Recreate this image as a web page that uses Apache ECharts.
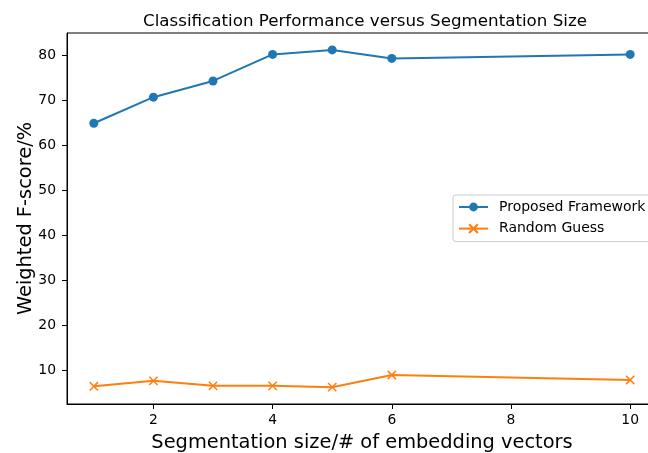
<!DOCTYPE html>
<html><head><meta charset="utf-8">
<script src="https://cdn.jsdelivr.net/npm/echarts@6/dist/echarts.min.js"></script>
<style>html,body{margin:0;padding:0;background:#fff}#c{width:648px;height:453px}</style>
</head><body><div id="c"></div>
<script>
const xValues = [1, 2, 3, 4, 5, 6, 10];
const proposed = [64.9, 70.7, 74.3, 80.2, 81.2, 79.3, 80.2];
const randomGuess = [6.5, 7.7, 6.6, 6.6, 6.3, 9.0, 7.9];
const xTicks = [2, 4, 6, 8, 10];
const yTicks = [10, 20, 30, 40, 50, 60, 70, 80];

const font = 'DejaVu Sans';
const chart = echarts.init(document.getElementById('c'), null, {renderer: 'canvas'});
chart.setOption({
  animation: false,
  backgroundColor: '#fff',
  title: {
    text: 'Classification Performance versus Segmentation Size',
    left: 360, top: 8, textAlign: 'center',
    textStyle: {fontFamily: font, fontSize: 16.7, fontWeight: 'normal', color: '#000'}
  },
  grid: {left: 67, width: 590, top: 33, height: 371, outerBoundsMode: 'none', containLabel: false,
         show: true, borderColor: '#000', borderWidth: 1, backgroundColor: 'transparent'},
  legend: {
    left: 453, top: 195, orient: 'vertical',
    itemWidth: 29, itemHeight: 11, itemGap: 5.6,
    padding: [4, 20, 5, 5],
    borderColor: '#ccc', borderWidth: 1, borderRadius: 3,
    textStyle: {fontFamily: font, fontSize: 14, color: '#000', lineHeight: 16, padding: [0, 0, 0, 6]},
    data: ['Proposed Framework', 'Random Guess']
  },
  xAxis: {
    type: 'value', min: 0.55, max: 10.45,
    name: 'Segmentation size/# of embedding vectors', nameLocation: 'middle', nameGap: 29,
    nameMoveOverlap: false,
    nameTextStyle: {fontFamily: font, fontSize: 19.4, color: '#000'},
    axisLine: {show: true, lineStyle: {color: '#000', width: 1}},
    axisTick: {show: true, inside: false, length: 5, customValues: xTicks, lineStyle: {color: '#000'}},
    axisLabel: {customValues: xTicks, fontFamily: font, fontSize: 13.9, color: '#000', margin: 9},
    splitLine: {show: false}
  },
  yAxis: {
    type: 'value', min: 2.56, max: 84.95,
    name: 'Weighted F-score/%', nameLocation: 'middle', nameGap: 32,
    nameMoveOverlap: false,
    nameTextStyle: {fontFamily: font, fontSize: 19.4, color: '#000'},
    axisLine: {show: true, lineStyle: {color: '#000', width: 1}},
    axisTick: {show: true, inside: false, length: 5, customValues: yTicks, lineStyle: {color: '#000'}},
    axisLabel: {customValues: yTicks, fontFamily: font, fontSize: 13.9, color: '#000', margin: 11},
    splitLine: {show: false}
  },
  series: [
    {
      name: 'Proposed Framework', type: 'line',
      data: xValues.map((x, i) => [x, proposed[i]]),
      symbol: 'circle', symbolSize: 9,
      lineStyle: {color: '#1f77b4', width: 2},
      itemStyle: {color: '#1f77b4'}
    },
    {
      name: 'Random Guess', type: 'line',
      data: xValues.map((x, i) => [x, randomGuess[i]]),
      symbol: 'path://M0,0L10,10M10,0L0,10', symbolSize: 8.3,
      lineStyle: {color: '#ff7f0e', width: 2},
      itemStyle: {color: '#ff7f0e', borderColor: '#ff7f0e', borderWidth: 1.5}
    }
  ]
});
</script></body></html>
